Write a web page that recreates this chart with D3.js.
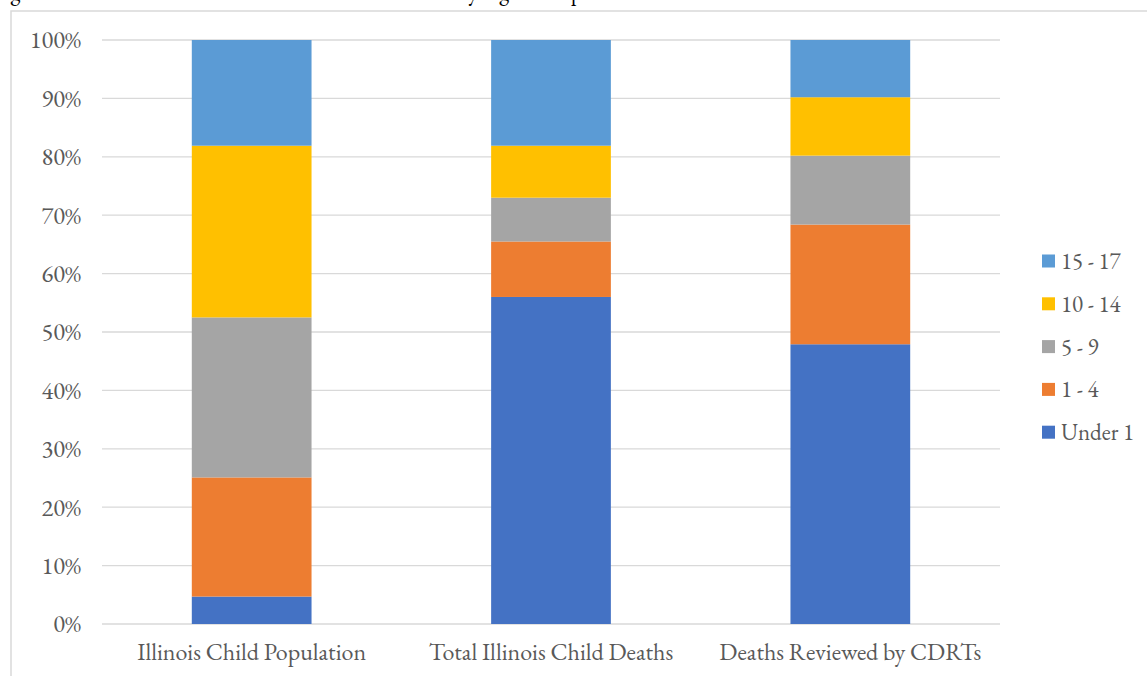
<!DOCTYPE html>
<html>
<head>
<meta charset="utf-8">
<script src="https://cdn.jsdelivr.net/npm/d3@7"></script>
<style>
  html, body { margin: 0; padding: 0; background: #fff; }
  svg { display: block; }
  text { font-family: "EB Garamond", Garamond, "Liberation Serif", "DejaVu Serif", serif; fill: #595959; }
</style>
</head>
<body>
<svg id="chart" width="1147" height="676"></svg>
<script>
// Groups along the x axis
const categories = ["Illinois Child Population", "Total Illinois Child Deaths", "Deaths Reviewed by CDRTs"];

// Age groups, bottom of the stack first
const ageGroups = ["Under 1", "1 - 4", "5 - 9", "10 - 14", "15 - 17"];

// Share of each group (percent), one array per age group, in category order
const under1   = [4.7, 56.0, 47.9];
const age1to4  = [20.4, 9.5, 20.5];
const age5to9  = [27.4, 7.5, 11.8];
const age10to14 = [29.4, 8.9, 10.0];
const age15to17 = [18.1, 18.1, 9.8];

const yTicks = [0, 10, 20, 30, 40, 50, 60, 70, 80, 90, 100];
const colors = ["#4472C4", "#ED7D31", "#A5A5A5", "#FFC000", "#5B9BD5"];

const seriesValues = [under1, age1to4, age5to9, age10to14, age15to17];
const rows = categories.map((c, i) => {
  const r = { category: c };
  ageGroups.forEach((g, k) => { r[g] = seriesValues[k][i]; });
  return r;
});

const svg = d3.select("#chart");
const plot = { left: 102, right: 1000, top: 40, bottom: 624 };

// Outer frame (top and left edges visible)
svg.append("path")
  .attr("d", "M11,676 L11,11 L1147,11")
  .attr("fill", "none")
  .attr("stroke", "#d9d9d9")
  .attr("stroke-width", 1.5);

// Title line, mostly above the visible area
svg.append("text")
  .attr("x", -7).attr("y", -1)
  .style("font-size", "23px")
  .style("fill", "#000")
  .text("Figure 3: Illinois Child Deaths and Deaths Reviewed by Age Group");

const x = d3.scaleBand().domain(categories).range([plot.left, plot.right]).padding(0);
const y = d3.scaleLinear().domain([0, 100]).range([plot.bottom, plot.top]);

// Gridlines
svg.append("g")
  .selectAll("line")
  .data(yTicks)
  .join("line")
  .attr("x1", plot.left).attr("x2", plot.right)
  .attr("y1", d => y(d)).attr("y2", d => y(d))
  .attr("stroke", "#d9d9d9")
  .attr("stroke-width", 1.3);

// Y axis labels
const yAxis = d3.axisLeft(y).tickValues(yTicks).tickFormat(d => d + "%").tickSize(0).tickPadding(21);
const gy = svg.append("g").attr("transform", `translate(${plot.left},0)`).call(yAxis);
gy.select(".domain").remove();
gy.selectAll("text").style("font-size", "24.5px").style("font-family", null).attr("fill", null);

// Stacked bars
const stack = d3.stack().keys(ageGroups);
const stacked = stack(rows);
const barW = x.bandwidth() * 0.4;

svg.append("g")
  .selectAll("g")
  .data(stacked)
  .join("g")
  .attr("fill", (d, i) => colors[i])
  .selectAll("rect")
  .data(d => d)
  .join("rect")
  .attr("x", d => x(d.data.category) + (x.bandwidth() - barW) / 2)
  .attr("width", barW)
  .attr("y", d => y(d[1]))
  .attr("height", d => y(d[0]) - y(d[1]));

// Category labels
const xAxis = d3.axisBottom(x).tickSize(0).tickPadding(19);
const gx = svg.append("g").attr("transform", `translate(0,${plot.bottom})`).call(xAxis);
gx.select(".domain").remove();
gx.selectAll("text").style("font-size", "24px").style("font-family", null).attr("fill", null);

// Legend, top entry is the top of the stack
const legendTop = 261, legendStep = 42.8;
const legend = svg.append("g")
  .selectAll("g")
  .data(ageGroups.slice().reverse())
  .join("g")
  .attr("transform", (d, i) => `translate(1042,${legendTop + i * legendStep})`);
legend.append("rect")
  .attr("x", 0).attr("y", -6.5)
  .attr("width", 13).attr("height", 13)
  .attr("fill", d => colors[ageGroups.indexOf(d)]);
legend.append("text")
  .attr("x", 19).attr("y", 0)
  .attr("dy", "0.35em")
  .style("font-size", "23px")
  .text(d => d);
</script>
</body>
</html>
